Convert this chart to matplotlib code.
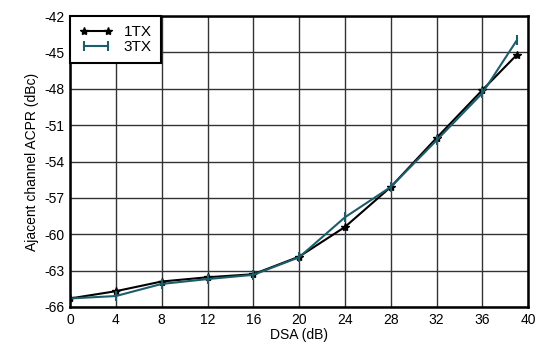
import matplotlib
matplotlib.use("Agg")
import matplotlib.pyplot as plt

plt.rcParams['font.family'] = ['Liberation Sans', 'DejaVu Sans']

dsa = [0, 4, 8, 12, 16, 20, 24, 28, 32, 36, 39]
acpr_1tx = [-65.3, -64.7, -63.9, -63.55, -63.3, -61.85, -59.4, -56.1, -52.05, -48.1, -45.2]
acpr_3tx = [-65.3, -65.1, -64.1, -63.7, -63.35, -61.9, -58.6, -56.1, -52.25, -48.35, -44.0]

x_ticks = [0, 4, 8, 12, 16, 20, 24, 28, 32, 36, 40]
y_ticks = [-66, -63, -60, -57, -54, -51, -48, -45, -42]

teal = '#1d5d6b'

fig = plt.figure(figsize=(5.39, 3.5), dpi=100)
ax = fig.add_axes([0.13, 0.123, 0.85, 0.831])

ax.plot(dsa, acpr_1tx, color='black', lw=1.5, marker='*', ms=6, label='1TX')
ax.plot(dsa, acpr_3tx, color=teal, lw=1.5, marker='|', ms=7, mew=1.5, label='3TX')

ax.set_xlim(0, 40)
ax.set_ylim(-66, -42)
ax.set_xticks(x_ticks)
ax.set_yticks(y_ticks)
ax.set_yticklabels([str(v) for v in y_ticks])
ax.tick_params(length=0, labelsize=10, pad=4)
ax.grid(True, color='#333333', lw=1.0)
ax.set_axisbelow(True)
for s in ax.spines.values():
    s.set_linewidth(1.8)

ax.set_xlabel('DSA (dB)', fontsize=10, labelpad=1)
ax.set_ylabel('Ajacent channel ACPR (dBc)', fontsize=10, labelpad=4)

leg = ax.legend(loc='upper left', fontsize=11, fancybox=False, framealpha=1,
                edgecolor='black', borderaxespad=0, handlelength=2.2,
                borderpad=0.6, labelspacing=0.05, numpoints=2,
                handletextpad=0.7)
leg.get_frame().set_linewidth(1.5)

fig.savefig('out.png', dpi=100)
